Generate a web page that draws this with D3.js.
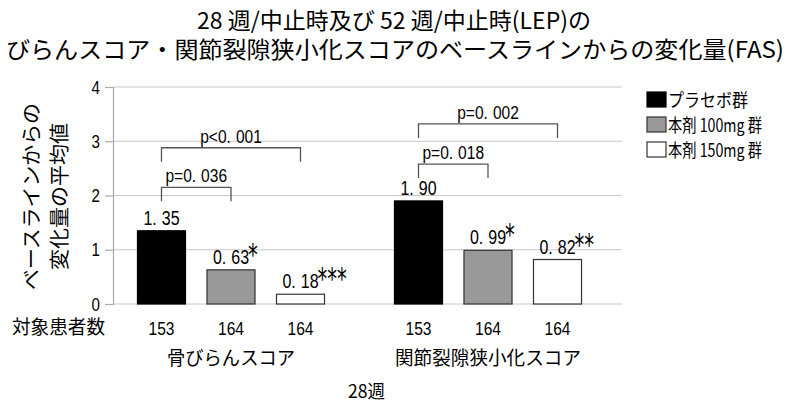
<!DOCTYPE html>
<html><head><meta charset="utf-8">
<script src="https://cdn.jsdelivr.net/npm/d3@7"></script>
<style>
body{margin:0;background:#fff;}
svg{display:block;}
.jp{font-family:"Noto Sans CJK JP","Noto Sans CJK SC",sans-serif;}
.num{font-family:"Liberation Sans","Arial",sans-serif;}
.ast{font-family:"DejaVu Sans",sans-serif;}
</style></head>
<body>
<svg id="chart" width="790" height="403"></svg>
<script>
// ---- data ----
const titleLines = ["28 週/中止時及び 52 週/中止時(LEP)の", "びらんスコア・関節裂隙狭小化スコアのベースラインからの変化量(FAS)"];
const yTitleLines = ["ベースラインからの", "変化量の平均値"];
const groups = ["骨びらんスコア", "関節裂隙狭小化スコア"];
const series = ["プラセボ群", "本剤 100mg 群", "本剤 150mg 群"];
const valuesBone = [1.35, 0.63, 0.18];
const valuesJoint = [1.90, 0.99, 0.82];
const starsBone = ["", "*", "***"];
const starsJoint = ["", "*", "**"];
const patientsBone = [153, 164, 164];
const patientsJoint = [153, 164, 164];
const yTicks = [0, 1, 2, 3, 4];
const bracketGroup = [0, 0, 1, 1];
const bracketFrom = [0, 0, 0, 0];
const bracketTo = [2, 1, 2, 1];
const bracketLevel = [2.88, 2.15, 3.32, 2.58];
const bracketLabel = ["p<0.001", "p=0.036", "p=0.002", "p=0.018"];
const rowLabel = "対象患者数";
const xTitle = "28週";

const values = [valuesBone, valuesJoint];
const stars = [starsBone, starsJoint];
const patients = [patientsBone, patientsJoint];

// ---- styles ----
const fills = ["#000000", "#999999", "#ffffff"];
const K = 0.82; // horizontal glyph compression for Latin digits

const svg = d3.select("#chart");
const plotL = 113, plotR = 622;
const y = d3.scaleLinear().domain([0, 4]).range([304, 87]);
const x0 = d3.scaleBand().domain(groups).range([102.5, 616.5]);
const x1 = d3.scaleBand().domain(series).range([0, x0.bandwidth()]).paddingInner(0.309).paddingOuter(0.503);

function stext(parent, x, yy, size, anchor, cls, k) {
  return parent.append("text").attr("class", cls)
    .attr("transform", `translate(${x},${yy}) scale(${k == null ? K : k},1)`)
    .attr("font-size", size).attr("text-anchor", anchor).attr("fill", "#000");
}
function gapText(t, str, gap) {
  const i = str.indexOf(".");
  t.append("tspan").text(str.slice(0, i + 1));
  t.append("tspan").attr("dx", gap).text(str.slice(i + 1));
  return t;
}

// titles
stext(svg, 394, 29, 23, "middle", "jp", 1).text(titleLines[0]).attr("textLength", 394).attr("lengthAdjust", "spacingAndGlyphs");
stext(svg, 395, 57.5, 23, "middle", "jp", 1).text(titleLines[1]).attr("textLength", 778).attr("lengthAdjust", "spacingAndGlyphs");

// grid
svg.append("g").selectAll("line").data(yTicks).join("line")
  .attr("x1", plotL).attr("x2", plotR).attr("y1", d => y(d)).attr("y2", d => y(d))
  .attr("stroke", "#c8c8c8").attr("stroke-width", 1.2);
// y axis
const ya = svg.append("g").attr("transform", `translate(${plotL},0)`)
  .call(d3.axisLeft(y).tickValues(yTicks).tickSize(8).tickFormat(d3.format("d")));
ya.select(".domain").attr("stroke", "#aaaaaa").attr("stroke-width", 1.2);
ya.selectAll(".tick line").attr("stroke", "#aaaaaa").attr("stroke-width", 1.2);
ya.selectAll(".tick text").remove();
yTicks.forEach(v => stext(svg, 100, y(v) + 6.5, 18.5, "end", "num").text(v));

// y title
yTitleLines.forEach((s, i) => {
  svg.append("text").attr("class", "jp").attr("font-size", 20).attr("fill", "#000")
    .attr("text-anchor", "middle")
    .attr("transform", `translate(${i === 0 ? 39 : 66.5},196.5) rotate(-90)`)
    .attr("textLength", i === 0 ? 187 : 147).attr("lengthAdjust", "spacingAndGlyphs")
    .text(s);
});

// bars
groups.forEach((g, gi) => {
  const gg = svg.append("g").attr("transform", `translate(${x0(g)},0)`);
  gg.selectAll("rect").data(series).join("rect")
    .attr("x", (d) => x1(d)).attr("width", x1.bandwidth())
    .attr("y", (d, i) => y(values[gi][i])).attr("height", (d, i) => y(0) - y(values[gi][i]))
    .attr("fill", (d, i) => fills[i]).attr("stroke", (d, i) => i === 0 ? "#000" : "#333").attr("stroke-width", 1.2);
  series.forEach((s, i) => {
    const cx = x0(g) + x1(s) + x1.bandwidth() / 2;
    const by = y(values[gi][i]) - 6;
    const t = gapText(stext(svg, cx, by, 19.5, "middle", "num"), d3.format(".2f")(values[gi][i]), 5 / K);
    if (stars[gi][i]) {
      const w = t.node().getComputedTextLength() * K;
      stext(svg, cx + w / 2 + 1.5, by + 1, 30, "start", "ast", 0.65).text(stars[gi][i]);
    }
    // patients
    stext(svg, cx, 335, 19, "middle", "num").text(patients[gi][i]);
  });
  // group label
  svg.append("text").attr("class", "jp").attr("font-size", 19).attr("fill", "#000")
    .attr("text-anchor", "middle").attr("x", x0(g) + x0.bandwidth() / 2).attr("y", 365)
    .attr("textLength", gi === 0 ? 128 : 186).attr("lengthAdjust", "spacingAndGlyphs").text(g);
});

// brackets
bracketLabel.forEach((lab, b) => {
  const g = groups[bracketGroup[b]];
  const xa = x0(g) + x1(series[bracketFrom[b]]) + x1.bandwidth() / 2;
  const xb = x0(g) + x1(series[bracketTo[b]]) + x1.bandwidth() / 2;
  const yy = y(bracketLevel[b]);
  svg.append("path").attr("d", `M${xa},${yy + 14}V${yy}H${xb}V${yy + 14}`)
    .attr("fill", "none").attr("stroke", "#555").attr("stroke-width", 1.3);
  gapText(stext(svg, (xa + xb) / 2, yy - 5, 19, "middle", "num"), lab, 5 / K);
});

// row label
svg.append("text").attr("class", "jp").attr("font-size", 19).attr("fill", "#000")
  .attr("x", 12).attr("y", 334).attr("textLength", 93).attr("lengthAdjust", "spacingAndGlyphs").text(rowLabel);
// x title
svg.append("text").attr("class", "jp").attr("font-size", 18).attr("fill", "#000")
  .attr("text-anchor", "middle").attr("x", 366.5).attr("y", 398)
  .attr("textLength", 37).attr("lengthAdjust", "spacingAndGlyphs").text(xTitle);

// legend
const legW = [80, 94, 94];
series.forEach((s, i) => {
  const ly = 92 + i * 25;
  svg.append("rect").attr("x", 647).attr("y", ly).attr("width", 19).attr("height", 15)
    .attr("fill", fills[i]).attr("stroke", i === 0 ? "#000" : "#333").attr("stroke-width", 1.2);
  svg.append("text").attr("class", "jp").attr("font-size", 18).attr("fill", "#000")
    .attr("x", 668).attr("y", ly + 14.5).attr("textLength", legW[i]).attr("lengthAdjust", "spacingAndGlyphs").text(s);
});
</script>
</body></html>
